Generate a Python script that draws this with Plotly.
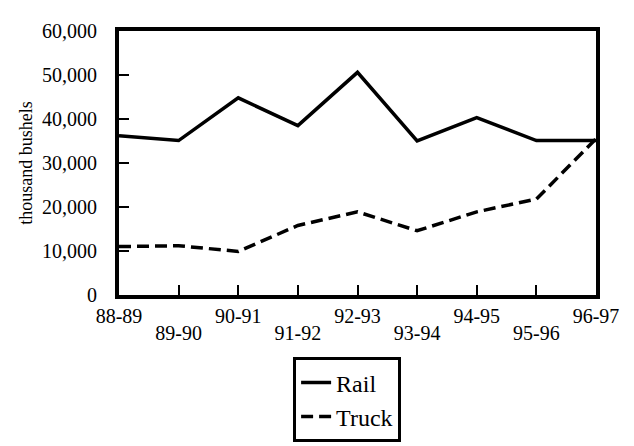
import plotly.graph_objects as go

seasons = ['88-89', '89-90', '90-91', '91-92', '92-93', '93-94', '94-95', '95-96', '96-97']
rail = [36200, 35100, 44800, 38500, 50600, 35000, 40300, 35100, 35100]
truck = [11000, 11200, 9900, 15800, 18900, 14600, 18900, 21800, 35500]

FONT = 'serif'
idx = list(range(len(seasons)))

fig = go.Figure()
fig.add_trace(go.Scatter(x=idx, y=rail, mode='lines', name='Rail',
                         line=dict(color='black', width=3.5)))
fig.add_trace(go.Scatter(x=idx, y=truck, mode='lines', name='Truck',
                         line=dict(color='black', width=3.5, dash='12px,6px')))
# empty trace so the second (lower-row) label axis is drawn
fig.add_trace(go.Scatter(x=[0], y=[None], xaxis='x2', showlegend=False,
                         hoverinfo='skip'))

fig.update_layout(
    width=634, height=446,
    margin=dict(l=111, r=46, t=16, b=138),
    paper_bgcolor='white', plot_bgcolor='white',
    font=dict(family=FONT, size=20, color='black'),
    legend=dict(x=0.365, y=-0.236, xanchor='left', yanchor='top',
                bordercolor='black', borderwidth=3,
                font=dict(family=FONT, size=24)),
    xaxis=dict(range=[0, len(seasons) - 1], tickmode='array', tickvals=idx,
               ticktext=[s if i % 2 == 0 else '' for i, s in enumerate(seasons)],
               ticks='inside', ticklen=10, tickwidth=1.5, tickcolor='black',
               showline=True, linecolor='black', linewidth=4, mirror=True,
               showgrid=False, zeroline=False, tickangle=0),
    xaxis2=dict(range=[0, len(seasons) - 1], overlaying='x', side='bottom',
                tickmode='array', tickvals=idx[1::2], ticktext=seasons[1::2],
                ticks='', showline=False, showgrid=False, zeroline=False,
                ticklabelstandoff=24, tickangle=0),
    yaxis=dict(range=[0, 60000], tickmode='array',
               tickvals=[0, 10000, 20000, 30000, 40000, 50000, 60000],
               tickformat=',d', ticks='inside', ticklen=10, tickwidth=1.5,
               tickcolor='black', showline=True, linecolor='black', linewidth=4,
               mirror=True, showgrid=False, zeroline=False, ticklabelstandoff=14,
               title=dict(text='thousand bushels', font=dict(family=FONT, size=18),
                          standoff=6)),
)

fig.write_html("out.html")
